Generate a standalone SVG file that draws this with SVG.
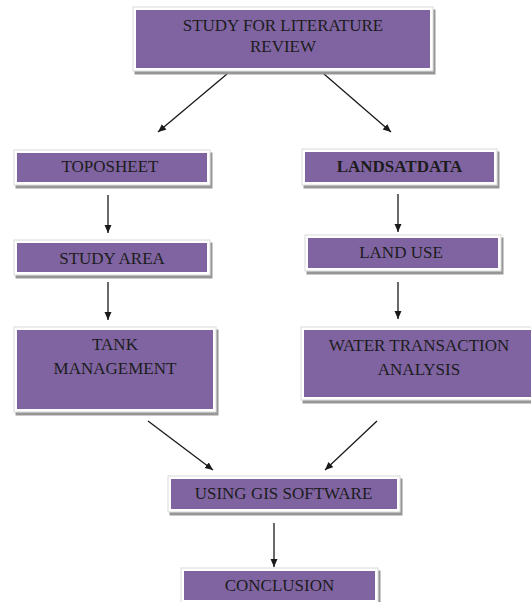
<svg xmlns="http://www.w3.org/2000/svg" width="531" height="602" viewBox="0 0 531 602">
<defs>
<style>
.frame{fill:#ffffff;stroke:#dadada;stroke-width:1;filter:url(#sh)}
.fill{fill:#8064A2}
.lbl{font-family:"Liberation Serif","Times New Roman",serif;font-size:17px;fill:#1c1c1c;text-anchor:middle}
.b{font-weight:bold}
.conn{stroke:#1a1a1a;stroke-width:1.3;fill:none;marker-end:url(#ah)}
</style>
<filter id="sh" x="-10%" y="-20%" width="130%" height="150%">
<feDropShadow dx="2" dy="3" stdDeviation="0.6" flood-color="#8a8a8a" flood-opacity="0.9"/>
</filter>
<marker id="ah" markerUnits="userSpaceOnUse" markerWidth="10" markerHeight="8" refX="8" refY="3.5" orient="auto">
<path d="M0,0 L8,3.5 L0,7 Z" fill="#1a1a1a"/>
</marker>
</defs>
<rect width="531" height="602" fill="#ffffff"/>

<g id="connectors">
<line class="conn" x1="227" y1="74" x2="158" y2="132"/>
<line class="conn" x1="324" y1="74" x2="391" y2="132"/>
<line class="conn" x1="108" y1="195" x2="108" y2="233"/>
<line class="conn" x1="398" y1="194" x2="398" y2="232"/>
<line class="conn" x1="108" y1="282" x2="108" y2="320"/>
<line class="conn" x1="398" y1="282" x2="398" y2="319"/>
<line class="conn" x1="148" y1="421" x2="213" y2="470"/>
<line class="conn" x1="377" y1="421" x2="325" y2="470"/>
<line class="conn" x1="274" y1="523" x2="274" y2="567"/>
</g>

<g id="n_literature">
<rect class="frame" x="133" y="7" width="300" height="64"/>
<rect class="fill" x="136" y="10" width="294" height="58"/>
<text class="lbl" x="283" y="31">STUDY FOR LITERATURE</text>
<text class="lbl" x="283" y="52">REVIEW</text>
</g>

<g id="n_toposheet">
<rect class="frame" x="14" y="150" width="196" height="35"/>
<rect class="fill" x="17" y="153" width="190" height="29"/>
<text class="lbl" x="110" y="172">TOPOSHEET</text>
</g>

<g id="n_studyarea">
<rect class="frame" x="14" y="240" width="196" height="35"/>
<rect class="fill" x="17" y="243" width="190" height="29"/>
<text class="lbl" x="112" y="264">STUDY AREA</text>
</g>

<g id="n_tank">
<rect class="frame" x="14" y="327" width="202" height="85"/>
<rect class="fill" x="17" y="330" width="196" height="79"/>
<text class="lbl" x="115" y="350">TANK</text>
<text class="lbl" x="115" y="374">MANAGEMENT</text>
</g>

<g id="n_landsat">
<rect class="frame" x="302" y="149" width="195" height="36"/>
<rect class="fill" x="305" y="152" width="189" height="30"/>
<text class="lbl b" x="399.5" y="172">LANDSATDATA</text>
</g>

<g id="n_landuse">
<rect class="frame" x="305" y="235" width="196" height="36"/>
<rect class="fill" x="308" y="238" width="190" height="30"/>
<text class="lbl" x="401" y="258">LAND USE</text>
</g>

<g id="n_water">
<rect class="frame" x="301" y="327" width="236" height="73"/>
<rect class="fill" x="304" y="330" width="230" height="67"/>
<text class="lbl" x="419" y="351">WATER TRANSACTION</text>
<text class="lbl" x="419" y="375">ANALYSIS</text>
</g>

<g id="n_gis">
<rect class="frame" x="168" y="476" width="232" height="36"/>
<rect class="fill" x="171" y="479" width="226" height="30"/>
<text class="lbl" x="283.5" y="499">USING GIS SOFTWARE</text>
</g>

<g id="n_conclusion">
<rect class="frame" x="181" y="568" width="197" height="35"/>
<rect class="fill" x="184" y="571" width="191" height="29"/>
<text class="lbl" x="279.5" y="591">CONCLUSION</text>
</g>
</svg>
